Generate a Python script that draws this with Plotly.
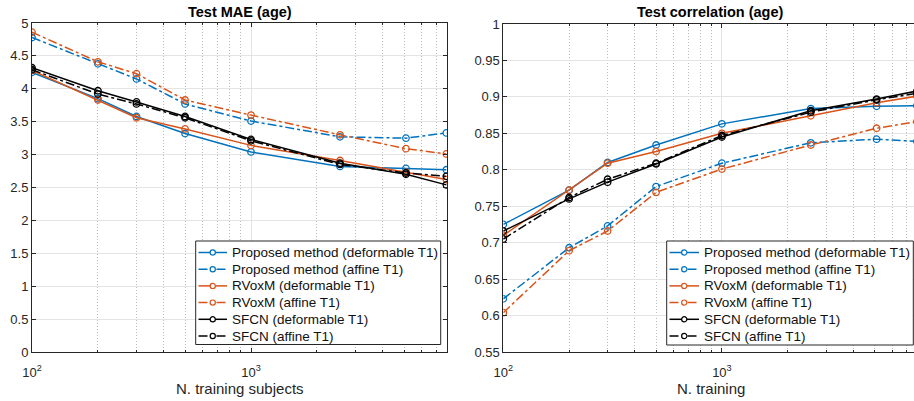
import plotly.graph_objects as go

# Training-set sizes (subjects)
n_train = [100, 200, 300, 500, 1000, 2550, 5100, 7800]

# Test MAE (age), years
mae_prop_def = [4.25, 3.85, 3.58, 3.32, 3.04, 2.82, 2.79, 2.77]
mae_prop_aff = [4.78, 4.38, 4.15, 3.77, 3.51, 3.27, 3.25, 3.33]
mae_rvox_def = [4.28, 3.83, 3.56, 3.39, 3.14, 2.91, 2.73, 2.62]
mae_rvox_aff = [4.86, 4.41, 4.23, 3.83, 3.60, 3.30, 3.09, 3.01]
mae_sfcn_def = [4.32, 3.97, 3.80, 3.58, 3.23, 2.87, 2.70, 2.54]
mae_sfcn_aff = [4.29, 3.92, 3.77, 3.56, 3.21, 2.85, 2.72, 2.67]

# Test correlation (age)
cor_prop_def = [0.725, 0.772, 0.810, 0.834, 0.863, 0.884, 0.887, 0.888]
cor_prop_aff = [0.623, 0.693, 0.723, 0.777, 0.809, 0.837, 0.842, 0.839]
cor_rvox_def = [0.710, 0.772, 0.809, 0.825, 0.850, 0.874, 0.892, 0.901]
cor_rvox_aff = [0.604, 0.689, 0.716, 0.769, 0.801, 0.834, 0.857, 0.866]
cor_sfcn_def = [0.716, 0.760, 0.783, 0.808, 0.845, 0.881, 0.897, 0.908]
cor_sfcn_aff = [0.705, 0.762, 0.787, 0.809, 0.847, 0.879, 0.896, 0.905]

series_names = [
    "Proposed method (deformable T1)",
    "Proposed method (affine T1)",
    "RVoxM (deformable T1)",
    "RVoxM (affine T1)",
    "SFCN (deformable T1)",
    "SFCN (affine T1)",
]

x_tick_vals = [100, 1000]
x_tick_text = ["10<sup>2</sup>", "10<sup>3</sup>"]
mae_tick_vals = [0, 0.5, 1, 1.5, 2, 2.5, 3, 3.5, 4, 4.5, 5]
mae_tick_text = ["0", "0.5", "1", "1.5", "2", "2.5", "3", "3.5", "4", "4.5", "5"]
cor_tick_vals = [0.55, 0.6, 0.65, 0.7, 0.75, 0.8, 0.85, 0.9, 0.95, 1.0]
cor_tick_text = ["0.55", "0.6", "0.65", "0.7", "0.75", "0.8", "0.85", "0.9", "0.95", "1"]

BLUE = "#0072BD"
ORANGE = "#D95319"
BLACK = "#000000"
styles = [
    (BLUE, "solid"), (BLUE, "dashdot"),
    (ORANGE, "solid"), (ORANGE, "dashdot"),
    (BLACK, "solid"), (BLACK, "dashdot"),
]

W, H = 914, 401
FONT = "Liberation Sans, Arial, Helvetica, sans-serif"
AX_COLOR = "#262626"
GRID = "#e4e4e4"
MINOR_GRID = "#bdbdbd"

fig = go.Figure()

mae_series = [mae_prop_def, mae_prop_aff, mae_rvox_def, mae_rvox_aff, mae_sfcn_def, mae_sfcn_aff]
cor_series = [cor_prop_def, cor_prop_aff, cor_rvox_def, cor_rvox_aff, cor_sfcn_def, cor_sfcn_aff]

for axes, data in [(("x", "y"), mae_series), (("x2", "y2"), cor_series)]:
    for ys, name, (col, dash) in zip(data, series_names, styles):
        fig.add_trace(go.Scatter(
            x=n_train, y=ys, name=name, mode="lines+markers",
            line=dict(color=col, width=1.5, dash=dash),
            marker=dict(symbol="circle-open", size=6.5, color=col,
                        line=dict(width=1.3, color=col)),
            xaxis=axes[0], yaxis=axes[1], showlegend=False,
        ))

# pixel geometry of the two axes boxes
L1, R1 = 32.0, 447.0
L2 = 503.3
TOP, BOT = 23.0, 352.0
dec1 = 219.0
dec2 = 218.6


def px(v):
    return v / W


def py(v):
    return 1 - v / H


xcommon = dict(
    type="log", tickvals=x_tick_vals, ticktext=x_tick_text,
    showgrid=True, gridcolor=GRID, gridwidth=1,
    minor=dict(dtick="D1", showgrid=True, gridcolor=MINOR_GRID, griddash="1px,2px",
               gridwidth=1, ticks="inside", ticklen=2, tickcolor=AX_COLOR),
    showline=True, linecolor=AX_COLOR, linewidth=1,
    ticks="inside", ticklen=4, tickcolor=AX_COLOR,
    tickfont=dict(family=FONT, size=13, color=AX_COLOR),
    ticklabelstandoff=8,
    zeroline=False, automargin=False,
)
ycommon = dict(
    showgrid=True, gridcolor=GRID, gridwidth=1,
    showline=True, linecolor=AX_COLOR, linewidth=1,
    ticks="inside", ticklen=4, tickcolor=AX_COLOR,
    tickfont=dict(family=FONT, size=13, color=AX_COLOR),
    zeroline=False, automargin=False,
)

fig.update_layout(
    width=W, height=H,
    margin=dict(l=0, r=0, t=0, b=0),
    paper_bgcolor="white", plot_bgcolor="white",
    font=dict(family=FONT, color=AX_COLOR),
    showlegend=False,
    xaxis=dict(**xcommon, domain=[px(L1), px(R1)], anchor="y",
               range=[2, 2 + (R1 - L1) / dec1], mirror="ticks"),
    yaxis=dict(**ycommon, domain=[py(BOT), py(TOP)], anchor="x",
               range=[0, 5], tickvals=mae_tick_vals, ticktext=mae_tick_text, mirror="ticks"),
    xaxis2=dict(**xcommon, domain=[px(L2), 1.0], anchor="y2",
                range=[2, 2 + (W - L2) / dec2], mirror="ticks"),
    yaxis2=dict(**ycommon, domain=[py(BOT), py(TOP + 1)], anchor="x2",
                range=[0.55, 1.0], tickvals=cor_tick_vals, ticktext=cor_tick_text),
)

# titles and axis labels, centred on the full axes boxes
cx1 = (L1 + R1) / 2
cx2 = L2 + (R1 - L1) / 2
for cx, text in [(cx1, "<b>Test MAE (age)</b>"), (cx2, "<b>Test correlation (age)</b>")]:
    fig.add_annotation(x=px(cx), y=py(12), xref="paper", yref="paper", text=text,
                       showarrow=False, xanchor="center", yanchor="middle",
                       font=dict(family=FONT, size=14.5, color="#000000"))
for cx, text in [(cx1, "N. training subjects"), (cx2, "N. training")]:
    fig.add_annotation(x=px(cx), y=py(388), xref="paper", yref="paper", text=text,
                       showarrow=False, xanchor="center", yanchor="middle",
                       font=dict(family=FONT, size=15, color=AX_COLOR))


# boxed legend in the lower-right corner of each axes
def add_legend(box_l, box_r, box_t, box_b, line_l, line_r, text_l, row_y):
    fig.add_shape(type="rect", xref="paper", yref="paper", layer="above",
                  x0=px(box_l), x1=px(box_r), y0=py(box_b), y1=py(box_t),
                  fillcolor="white", line=dict(color=AX_COLOR, width=1))
    mx = (line_l + line_r) / 2
    r = 2.6
    for name, (col, dash), yy in zip(series_names, styles, row_y):
        fig.add_shape(type="line", xref="paper", yref="paper", layer="above",
                      x0=px(line_l), x1=px(line_r), y0=py(yy), y1=py(yy),
                      line=dict(color=col, width=1.5, dash=dash))
        fig.add_shape(type="circle", xref="paper", yref="paper", layer="above",
                      x0=px(mx - r), x1=px(mx + r), y0=py(yy + r), y1=py(yy - r),
                      fillcolor="white", line=dict(color=col, width=1.2))
        fig.add_annotation(x=px(text_l), y=py(yy), xref="paper", yref="paper",
                           text=name, showarrow=False, xanchor="left", yanchor="middle",
                           font=dict(family=FONT, size=13.5, color="#111111"))


rows = [252.5, 269.2, 285.9, 302.6, 319.3, 336.0]
add_legend(195.7, 440.7, 241.0, 344.5, 198.5, 227.0, 229.5, rows)
add_legend(666.7, 913.3, 241.0, 345.0, 669.5, 699.0, 701.5, rows)

fig.write_html("out.html")
